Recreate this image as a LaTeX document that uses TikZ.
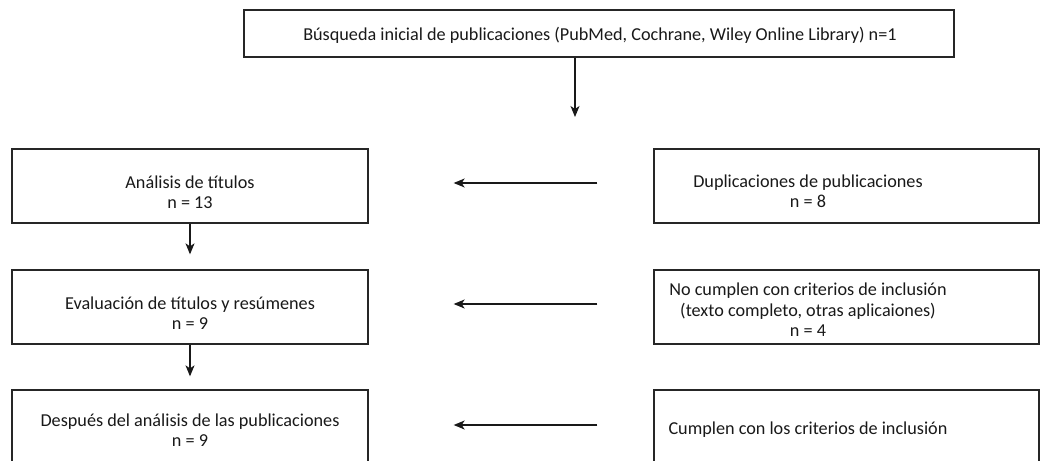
\documentclass[tikz,border=0pt]{standalone}
\usepackage{fontspec}
\setmainfont{Carlito}
\usetikzlibrary{arrows.meta}
\begin{document}
\begin{tikzpicture}[x=1pt,y=-1pt,
  box/.style={draw=black!85, line width=1.3pt, minimum height=74pt, inner sep=0pt},
  txt/.style={align=center, font=\fontsize{18.2}{20.5}\selectfont, inner sep=0pt, text=black!90},
  arr/.style={draw=black!90, line width=1.2pt, -{Stealth[length=11pt,width=9pt,inset=3pt]}}]
\useasboundingbox (0,0) rectangle (1040,460);
% top
\node[box, minimum width=710pt, minimum height=47pt] (top) at (599,33.5) {};
\node[txt] (topt) at (600,35.5) {Búsqueda inicial de publicaciones (PubMed, Cochrane, Wiley Online Library) n=1};
\coordinate (ts) at ([xshift=-24pt]top.south);
\coordinate (te) at (575,117);
\draw[arr] (ts) -- (te);
% left column
\node[box, minimum width=356pt] (a1) at (190,186) {};
\node[txt] (a1t) at (190,192) {Análisis de títulos\\n = 13};
\node[box, minimum width=356pt] (a2) at (190,307) {};
\node[txt] (a2t) at (190,313) {Evaluación de títulos y resúmenes\\n = 9};
\node[box, minimum width=356pt] (a3) at (190,427) {};
\node[txt] (a3t) at (190,430) {Después del análisis de las publicaciones\\n = 9};
% right column
\node[box, minimum width=385pt] (b1) at (846.5,186) {};
\node[txt] (b1t) at (808,191) {Duplicaciones de publicaciones\\n = 8};
\node[box, minimum width=385pt] (b2) at (846.5,307) {};
\node[txt] (b2t) at (808,310) {No cumplen con criterios de inclusión\\(texto completo, otras aplicaiones)\\n = 4};
\node[box, minimum width=385pt] (b3) at (846.5,427) {};
\node[txt] (b3t) at (808,430) {Cumplen con los criterios de inclusión};
% arrows
\draw[arr, shorten >=15pt] (a1) -- (a2);
\draw[arr, shorten >=13pt] (a2) -- (a3);
\draw[arr, shorten <=56pt, shorten >=85pt] ([yshift=3pt]b1.west) -- ([yshift=3pt]a1.east);
\draw[arr, shorten <=56pt, shorten >=85pt] ([yshift=3pt]b2.west) -- ([yshift=3pt]a2.east);
\draw[arr, shorten <=56pt, shorten >=85pt] ([yshift=2pt]b3.west) -- ([yshift=2pt]a3.east);
\end{tikzpicture}
\end{document}
